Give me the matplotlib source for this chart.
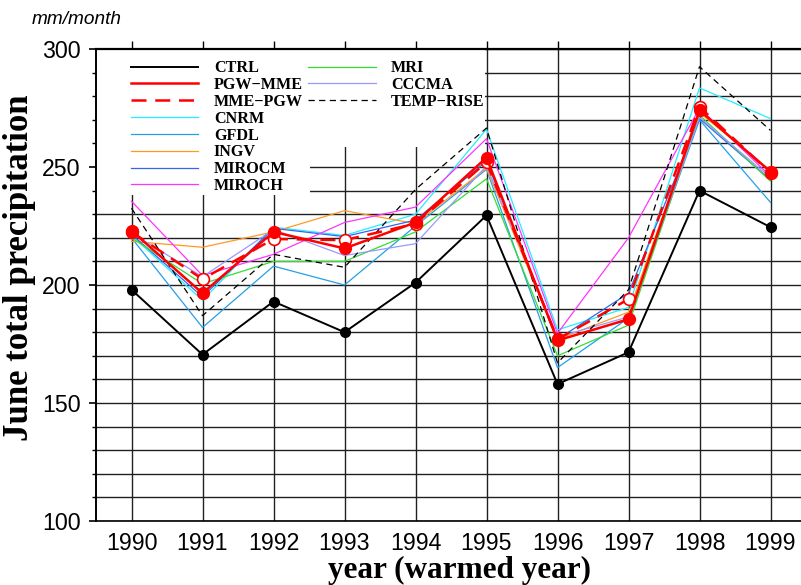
import matplotlib
matplotlib.use("Agg")
import matplotlib.pyplot as plt
from matplotlib.lines import Line2D
from matplotlib.patches import Rectangle
from matplotlib.ticker import MultipleLocator

years = [1990, 1991, 1992, 1993, 1994, 1995, 1996, 1997, 1998, 1999]

ctrl = [198, 170.5, 193, 180, 201, 229.5, 158, 171.5, 240, 224.5]
pgw_mme = [223, 196.5, 222.5, 215.5, 226.5, 254, 176.5, 185.5, 274, 248]
mme_pgw = [222.5, 202.5, 219.5, 219, 226, 252, 177, 194, 275.5, 247.5]
cnrm = [221, 193.5, 224.5, 221, 230, 266, 181, 190.5, 283.5, 270.5]
gfdl = [220, 182, 208, 200, 225, 249, 165, 186, 270, 235]
ingv = [218.5, 216, 222.5, 231.5, 226, 249.5, 177, 188.5, 273, 248.5]
mirocm = [221.5, 195, 224, 220.5, 227.5, 252.5, 177, 196.5, 270.5, 244.5]
miroch = [235.5, 204, 213, 226.5, 233, 262, 179.5, 220, 275, 246]
mri = [220, 200.5, 210, 210, 222.5, 245, 170, 183, 272, 244]
cccma = [222, 203.5, 223.5, 212.5, 217.5, 250.5, 178, 186.5, 271, 245.5]
temp_rise = [232.5, 187, 213, 207.5, 240.5, 266.5, 167, 198, 292.5, 265.5]

models = [
    ("CNRM", cnrm, "#22eeff"),
    ("GFDL", gfdl, "#22a0e8"),
    ("INGV", ingv, "#ff9922"),
    ("MIROCM", mirocm, "#3366ee"),
    ("MIROCH", miroch, "#ff33ff"),
    ("MRI", mri, "#33dd33"),
    ("CCCMA", cccma, "#9999ff"),
]

tick_font = ["Liberation Sans", "DejaVu Sans"]
serif = ["Liberation Serif", "DejaVu Serif"]

fig = plt.figure(figsize=(8.01, 5.85), dpi=100)
W, H = 801, 585
ax = fig.add_axes([96 / W, (H - 521) / H, 710 / W, 472 / H])
ax.set_axisbelow(True)

# white boxes behind the legend entries (they hide the grid there)
ax.add_patch(Rectangle((1989.5, 238), 3.02, 62, facecolor="white",
                       edgecolor="none", zorder=1))
ax.add_patch(Rectangle((1992.5, 258.5), 2.48, 41.5, facecolor="white",
                       edgecolor="none", zorder=1))

for name, vals, col in models:
    ax.plot(years, vals, color=col, lw=0.9, zorder=2)
ax.plot(years, temp_rise, color="black", lw=0.9, ls=(0, (5, 3.5)), zorder=2)
ax.plot(years, ctrl, color="black", lw=1.4, marker="o", ms=7, zorder=3)
ax.plot(years, mme_pgw, color="red", lw=1.8, ls=(0, (6, 3.5)), marker="o",
        ms=8.5, mfc="white", mec="red", mew=1.2, zorder=4)
ax.plot(years, pgw_mme, color="red", lw=1.8, marker="o", ms=8.5, zorder=5)

ax.set_xlim(1989.5, 1999.5)
ax.set_ylim(100, 300)
ax.set_xticks(years)
ax.set_xticklabels([str(y) for y in years])
ax.yaxis.set_major_locator(MultipleLocator(50))
ax.yaxis.set_minor_locator(MultipleLocator(10))

ax.grid(axis="x", color="#202020", lw=1.0)
ax.grid(axis="y", which="both", color="#202020", lw=1.0)

ax.tick_params(axis="x", which="major", top=True, bottom=False,
               labelbottom=True, direction="out", length=6, width=1.0, pad=2)
ax.tick_params(axis="y", which="major", direction="out", length=5, width=1.2, pad=6)
ax.tick_params(axis="y", which="minor", direction="out", length=3, width=1.0)
for lab in ax.get_xticklabels() + ax.get_yticklabels():
    lab.set_family(tick_font)
    lab.set_fontsize(16.7)

ax.spines["right"].set_visible(False)
ax.spines["top"].set_linewidth(1.6)
ax.spines["left"].set_linewidth(1.4)
ax.spines["bottom"].set_linewidth(1.2)

fig.text(20 / W, 1 - 268 / H, "June total precipitation", rotation=90,
         ha="center", va="center", family=serif, weight="bold", fontsize=25)
fig.text(460 / W, 1 - 570 / H, "year (warmed year)", ha="center",
         va="center", family=serif, weight="bold", fontsize=22.5)
fig.text(77 / W, 1 - 19 / H, "mm/month", ha="center", va="center",
         family=tick_font, style="italic", fontsize=13.7)

# legend proxies
h_ctrl = Line2D([], [], color="black", lw=1.4)
h_pgw = Line2D([], [], color="red", lw=1.8)
h_mme = Line2D([], [], color="red", lw=1.8, ls=(0, (6, 3.5)))
h_models = [Line2D([], [], color=c, lw=0.9) for _, _, c in models]
h_temp = Line2D([], [], color="black", lw=0.9, ls=(0, (5, 3.5)))

leg_kw = dict(loc="upper left", frameon=False, borderpad=0, borderaxespad=0,
              handlelength=4.2, handletextpad=0.95, labelspacing=0.05,
              prop={"family": serif, "weight": "bold", "size": 11.6})
leg1 = ax.legend([h_ctrl, h_pgw, h_mme] + h_models[:5],
                 ["CTRL", "PGW\u2212MME", "MME\u2212PGW"] + [m[0] for m in models[:5]],
                 bbox_to_anchor=(0.049, 0.976), **leg_kw)
ax.add_artist(leg1)
ax.legend(h_models[5:] + [h_temp], [m[0] for m in models[5:]] + ["TEMP\u2212RISE"],
          bbox_to_anchor=(0.2986, 0.976), **leg_kw)

fig.savefig("out.png", dpi=100)
